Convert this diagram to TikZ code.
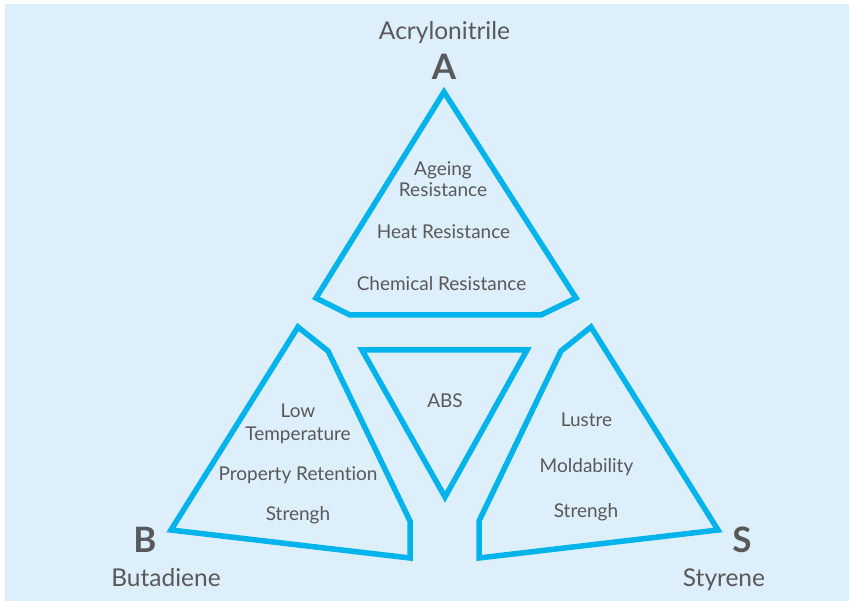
\documentclass[tikz,border=0pt]{standalone}
\usepackage{fontspec}
\setmainfont{Lato}[Ligatures=NoCommon]
\usetikzlibrary{positioning}
\definecolor{absblue}{HTML}{00B4EB}
\definecolor{absbg}{HTML}{DDEFFB}
\definecolor{absgray}{HTML}{58595B}

\begin{document}
\begin{tikzpicture}[
  x=1pt, y=-1pt,
  face/.style={draw=absblue, line width=5.5pt, line join=miter},
  prop/.style={text=absgray, align=center, inner sep=0pt, anchor=base,
    font=\fontsize{19}{21}\selectfont},
  letter/.style={text=absgray, inner sep=0pt, anchor=base,
    font=\fontsize{35}{35}\selectfont\bfseries},
  monomer/.style={text=absgray, inner sep=0pt, anchor=base,
    font=\fontsize{24.5}{24.5}\selectfont}
]

\useasboundingbox (0,0) rectangle (849,601);
\fill[absbg] (5,4) rectangle (849,601);

% the four faces
\draw[face] (444,92) -- (576,298) -- (541,315) -- (350,315) -- (316,298) -- cycle;
\draw[face] (298,327) -- (328,351) -- (410,521) -- (410,558) -- (171,530) -- cycle;
\draw[face] (591,327) -- (561,351) -- (479,521) -- (479,558) -- (718,530) -- cycle;
\draw[face] (362,350) -- (527,350) -- (445,497) -- cycle;

% monomers
\node[monomer] (acryl) at (444.5,40) {Acrylonitrile};
\node[letter] (lettA) at (444,80) {A};
\node[letter] (lettB) at (145,552) {B};
\node[monomer] (butad) at (166,586) {Butadiene};
\node[letter] (lettS) at (742,552) {S};
\node[monomer] (styr) at (724,586) {Styrene};

% properties (base of a two-line node is its last line)
\node[prop] (ageing) at (443,197) {Ageing\\Resistance};
\node[prop] (heat) at (443.5,238.5) {Heat Resistance};
\node[prop] (chem) at (441.5,291) {Chemical Resistance};
\node[prop] (abs) at (445,408) {ABS};
\node[prop] (lowtemp) at (298,441) {Low\\[2pt]Temperature};
\node[prop] (retain) at (298,481) {Property Retention};
\node[prop] (strB) at (298,520) {Strengh};
\node[prop] (lustre) at (586.5,427) {Lustre};
\node[prop] (mold) at (586.5,472) {Moldability};
\node[prop] (strS) at (586,517) {Strengh};

\end{tikzpicture}
\end{document}
